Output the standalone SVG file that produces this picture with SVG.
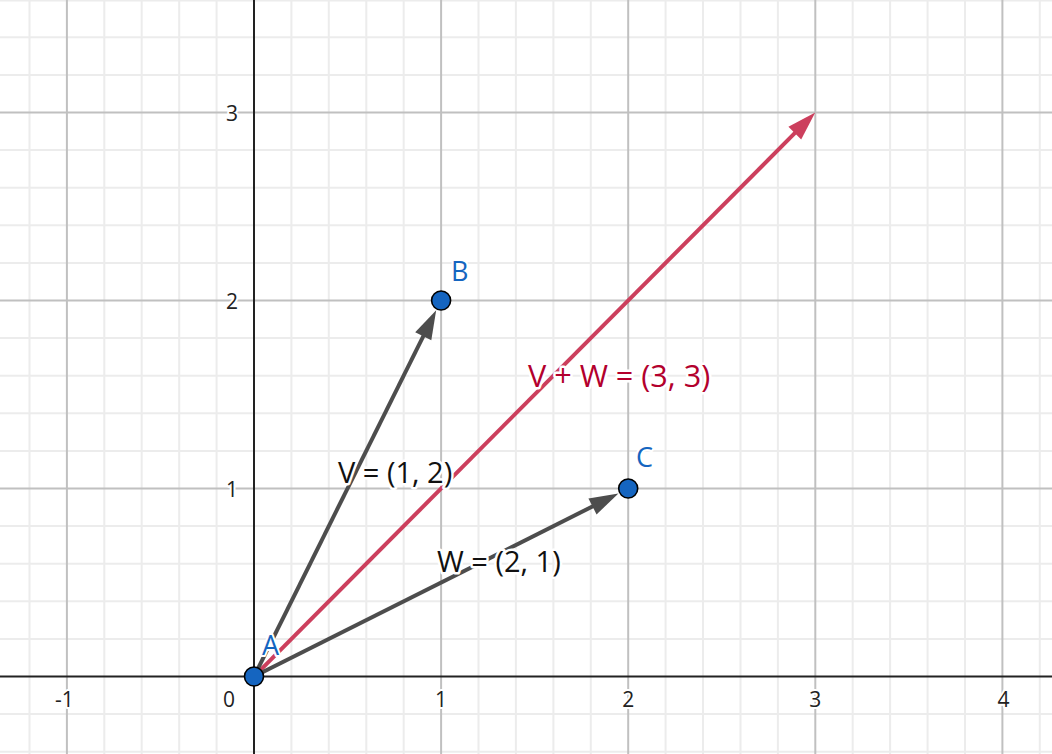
<svg xmlns="http://www.w3.org/2000/svg" width="1052" height="754" viewBox="0 0 1052 754">
<style>
.minor{stroke:#ececec;stroke-width:2;}
.major{stroke:#c0c0c0;stroke-width:2;}
.axis{stroke:#222;stroke-width:2;}
.tick{font-family:"Open Sans","Noto Sans",sans-serif;font-size:21px;fill:#222;stroke:#fff;stroke-width:4;paint-order:stroke;stroke-linejoin:round;}
.vec{stroke:#4d4d4d;stroke-width:4;fill:none;marker-end:url(#ag);}
.sum{stroke:#cc3f5d;stroke-width:4;fill:none;marker-end:url(#ar);}
.pt{fill:#1565c0;stroke:#000;stroke-width:1.6;}
.plab{font-family:"Open Sans","Noto Sans",sans-serif;font-size:27px;fill:#1565c0;stroke:#fff;stroke-width:4;paint-order:stroke;stroke-linejoin:round;}
.vlab{font-family:"Open Sans","Noto Sans",sans-serif;font-size:29px;fill:#111;stroke:#fff;stroke-width:5;paint-order:stroke;stroke-linejoin:round;}
.slab{font-family:"Open Sans","Noto Sans",sans-serif;font-size:30.6px;fill:#b3002d;stroke:#fff;stroke-width:5;paint-order:stroke;stroke-linejoin:round;}
</style>
<defs>
<marker id="ag" markerUnits="userSpaceOnUse" markerWidth="40" markerHeight="40" refX="0" refY="0" orient="auto" overflow="visible"><path d="M-1,-9 L28,0 L-1,9 Z" fill="#4d4d4d"/></marker>
<marker id="ar" markerUnits="userSpaceOnUse" markerWidth="40" markerHeight="40" refX="0" refY="0" orient="auto" overflow="visible"><path d="M-1,-9 L28,0 L-1,9 Z" fill="#cc3f5d"/></marker>
</defs>
<rect width="1052" height="754" fill="#fff"/>
<g id="grid-minor" class="minor">
<line x1="29.5" y1="0" x2="29.5" y2="754"/>
<line x1="104.3" y1="0" x2="104.3" y2="754"/>
<line x1="141.7" y1="0" x2="141.7" y2="754"/>
<line x1="179.2" y1="0" x2="179.2" y2="754"/>
<line x1="216.6" y1="0" x2="216.6" y2="754"/>
<line x1="291.4" y1="0" x2="291.4" y2="754"/>
<line x1="328.8" y1="0" x2="328.8" y2="754"/>
<line x1="366.3" y1="0" x2="366.3" y2="754"/>
<line x1="403.7" y1="0" x2="403.7" y2="754"/>
<line x1="478.5" y1="0" x2="478.5" y2="754"/>
<line x1="515.9" y1="0" x2="515.9" y2="754"/>
<line x1="553.4" y1="0" x2="553.4" y2="754"/>
<line x1="590.8" y1="0" x2="590.8" y2="754"/>
<line x1="665.6" y1="0" x2="665.6" y2="754"/>
<line x1="703" y1="0" x2="703" y2="754"/>
<line x1="740.5" y1="0" x2="740.5" y2="754"/>
<line x1="777.9" y1="0" x2="777.9" y2="754"/>
<line x1="852.7" y1="0" x2="852.7" y2="754"/>
<line x1="890.1" y1="0" x2="890.1" y2="754"/>
<line x1="927.6" y1="0" x2="927.6" y2="754"/>
<line x1="965" y1="0" x2="965" y2="754"/>
<line x1="1039.8" y1="0" x2="1039.8" y2="754"/>
<line x1="0" y1="751.7" x2="1052" y2="751.7"/>
<line x1="0" y1="714.1" x2="1052" y2="714.1"/>
<line x1="0" y1="638.9" x2="1052" y2="638.9"/>
<line x1="0" y1="601.3" x2="1052" y2="601.3"/>
<line x1="0" y1="563.7" x2="1052" y2="563.7"/>
<line x1="0" y1="526.1" x2="1052" y2="526.1"/>
<line x1="0" y1="450.9" x2="1052" y2="450.9"/>
<line x1="0" y1="413.3" x2="1052" y2="413.3"/>
<line x1="0" y1="375.7" x2="1052" y2="375.7"/>
<line x1="0" y1="338.1" x2="1052" y2="338.1"/>
<line x1="0" y1="262.9" x2="1052" y2="262.9"/>
<line x1="0" y1="225.3" x2="1052" y2="225.3"/>
<line x1="0" y1="187.7" x2="1052" y2="187.7"/>
<line x1="0" y1="150.1" x2="1052" y2="150.1"/>
<line x1="0" y1="74.9" x2="1052" y2="74.9"/>
<line x1="0" y1="37.3" x2="1052" y2="37.3"/>
<line x1="0" y1="0.5" x2="1052" y2="0.5"/>
</g>
<g id="grid-major" class="major">
<line x1="66.9" y1="0" x2="66.9" y2="754"/>
<line x1="441.1" y1="0" x2="441.1" y2="754"/>
<line x1="628.2" y1="0" x2="628.2" y2="754"/>
<line x1="815.3" y1="0" x2="815.3" y2="754"/>
<line x1="1002.4" y1="0" x2="1002.4" y2="754"/>
<line x1="0" y1="488.5" x2="1052" y2="488.5"/>
<line x1="0" y1="300.5" x2="1052" y2="300.5"/>
<line x1="0" y1="112.5" x2="1052" y2="112.5"/>
</g>
<g id="axes" class="axis">
<line x1="0" y1="676.5" x2="1052" y2="676.5"/>
<line x1="254" y1="0" x2="254" y2="754"/>
</g>
<g id="tick-labels" class="tick">
<text x="64.5" y="707" text-anchor="middle">-1</text>
<text x="229" y="707" text-anchor="middle">0</text>
<text x="441.1" y="707" text-anchor="middle">1</text>
<text x="628.2" y="707" text-anchor="middle">2</text>
<text x="815.3" y="707" text-anchor="middle">3</text>
<text x="1003.5" y="707" text-anchor="middle">4</text>
<text x="238" y="496.5" text-anchor="end">1</text>
<text x="238" y="308.5" text-anchor="end">2</text>
<text x="238" y="120.5" text-anchor="end">3</text>
</g>
<g id="connectors">
<line id="vec-sum" class="sum" x1="254" y1="676.5" x2="795.5" y2="132.4"/>
<line id="vec-V" class="vec" x1="254" y1="676.5" x2="423.7" y2="335.4"/>
<line id="vec-W" class="vec" x1="254" y1="676.5" x2="593.4" y2="506"/>
</g>
<g id="node-A"><circle class="pt" cx="254" cy="676.5" r="9.5"/><text class="plab" x="262" y="655">A</text></g>
<g id="node-B"><circle class="pt" cx="441.1" cy="300.5" r="9.5"/><text class="plab" x="451" y="281">B</text></g>
<g id="node-C"><circle class="pt" cx="628.2" cy="488.5" r="9.5"/><text class="plab" x="636" y="467">C</text></g>
<g id="vector-labels">
<text class="vlab" x="338" y="483">V = (1, 2)</text>
<text class="vlab" x="437" y="572">W = (2, 1)</text>
<text class="slab" x="528" y="387">V + W = (3, 3)</text>
</g>
</svg>
